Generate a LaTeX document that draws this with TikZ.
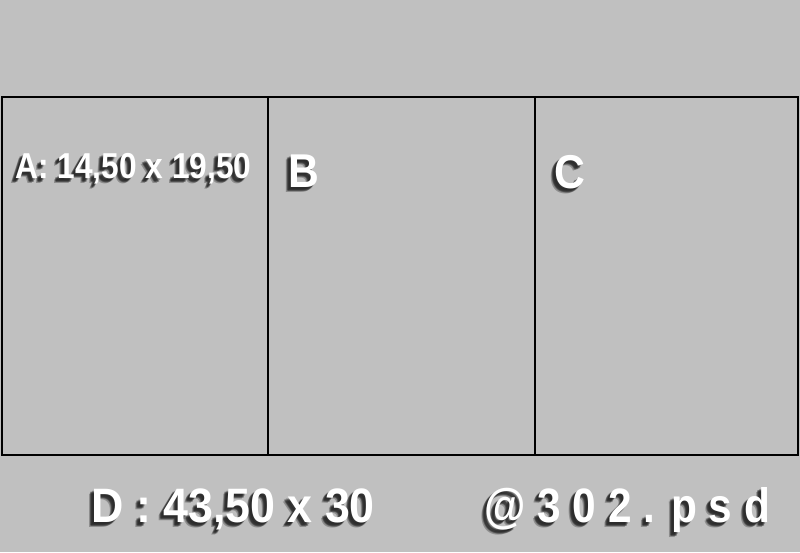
\documentclass[tikz,border=0pt]{standalone}
\usepackage{fontspec}
\setmainfont{Liberation Sans}
\usepackage{graphicx}
\usepackage{tikz}
\usetikzlibrary{calc}
\definecolor{Board}{HTML}{C0C0C0}
\definecolor{Shade}{HTML}{1A1A1A}
\newcommand{\Caption}[6]{%
  \foreach \dx/\dy in {-2/2,-3/3,-4/4,-3/4,-4/3,-5/5} {
    \node[anchor=base west,inner sep=0pt,text=Shade,opacity=0.3,font=\fontsize{#4}{#4}\selectfont\bfseries] at (#2+\dx,#3+\dy) {\scalebox{#5}[1]{#6}};
  }
  \node[anchor=base west,inner sep=0pt,text=white,font=\fontsize{#4}{#4}\selectfont\bfseries] (#1) at (#2,#3) {\scalebox{#5}[1]{#6}};%
}

\begin{document}
\begin{tikzpicture}[x=0.02cm,y=-0.02cm]
\fill[Board] (0,0) rectangle (800,552);
\useasboundingbox (0,0) rectangle (800,552);
% sheet and its three panels
\draw[black,line width=1.4pt] (2,97) rectangle (798,455);
\draw[black,line width=1.4pt] (268,97) -- (268,455);
\draw[black,line width=1.4pt] (535,97) -- (535,455);
% labels
\Caption{sizeA}{15}{178}{20.5pt}{0.88}{A: 14,50 x 19,50}
\Caption{panelB}{288}{187}{27pt}{0.9}{B}
\Caption{panelC}{554}{188}{27pt}{0.9}{C}
\Caption{sizeD}{91}{522}{27.5pt}{0.926}{D : 43,50 x 30}
\Caption{file}{484}{522}{27.5pt}{0.878}{@ 3 0 2 . p s d}
\end{tikzpicture}
\end{document}
